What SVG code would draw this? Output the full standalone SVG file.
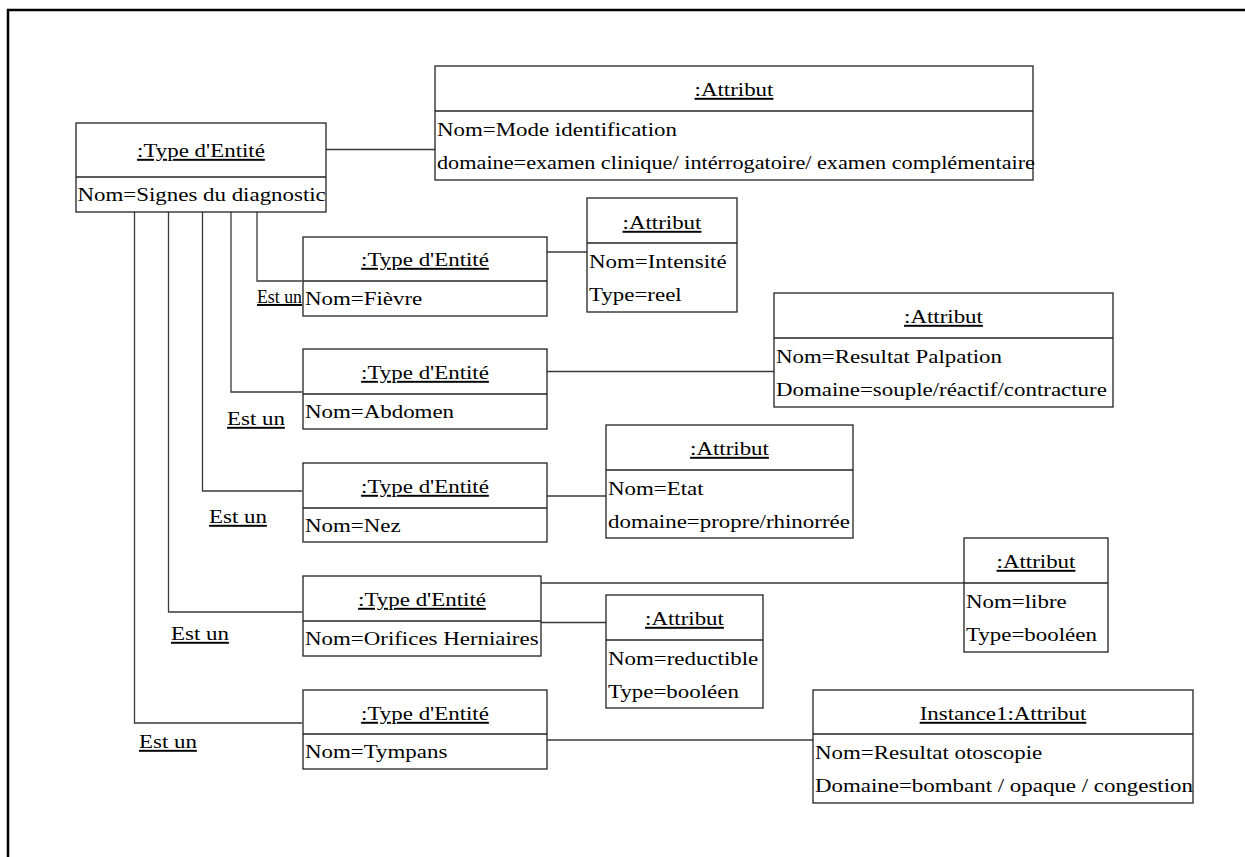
<svg xmlns="http://www.w3.org/2000/svg" width="1245" height="857" viewBox="0 0 1245 857">
  <style>
    text { font-family: "Liberation Serif", "Times New Roman", serif; font-size: 19.5px; fill: #000; }
    .h { text-anchor: middle; text-decoration: underline; transform-box: fill-box; transform-origin: 50% 50%; transform: scaleX(1.175); }
    .t { transform-box: fill-box; transform-origin: 0 50%; transform: scaleX(1.175); }
    .lbl { text-decoration: underline; transform-box: fill-box; transform-origin: 0 50%; transform: scaleX(1.175); }
    .box { fill: #fff; stroke: #222; stroke-width: 1.3; }
    .div { stroke: #222; stroke-width: 1.3; }
    .conn { fill: none; stroke: #3a3a3a; stroke-width: 1.3; }
    .frame { stroke: #000; stroke-width: 2.5; }
  </style>

  <rect width="1245" height="857" fill="#fff"/>

  <!-- page frame -->
  <g id="frame">
    <line class="frame" x1="7" y1="10" x2="1245" y2="10"/>
    <line class="frame" x1="8" y1="9" x2="8" y2="857"/>
  </g>

  <!-- connectors -->
  <g id="connectors">
    <line class="conn" x1="326" y1="149.5" x2="435" y2="149.5"/>
    <line class="conn" x1="547" y1="252" x2="587" y2="252"/>
    <line class="conn" x1="547" y1="371.5" x2="774" y2="371.5"/>
    <line class="conn" x1="547" y1="496" x2="606" y2="496"/>
    <line class="conn" x1="541" y1="583" x2="964" y2="583"/>
    <line class="conn" x1="541" y1="622.5" x2="606" y2="622.5"/>
    <line class="conn" x1="547" y1="740" x2="813" y2="740"/>

    <polyline class="conn" points="257,212 257,281 302,281"/>
    <polyline class="conn" points="231,212 231,392 302,392"/>
    <polyline class="conn" points="202.5,212 202.5,491 302,491"/>
    <polyline class="conn" points="168.5,212 168.5,612 302,612"/>
    <polyline class="conn" points="134.5,212 134.5,723 302,723"/>

    <text x="257" y="303" textLength="45" lengthAdjust="spacingAndGlyphs" text-decoration="underline">Est un</text>
    <text class="lbl" x="227" y="425">Est un</text>
    <text class="lbl" x="209" y="523">Est un</text>
    <text class="lbl" x="171" y="640">Est un</text>
    <text class="lbl" x="139" y="748">Est un</text>
  </g>

  <!-- root entity type -->
  <g id="entite-signes">
    <rect class="box" x="76" y="123" width="250" height="89"/>
    <line class="div" x1="76" y1="177" x2="326" y2="177"/>
    <text class="h" x="201" y="157">:Type d'Entité</text>
    <text class="t" x="77.5" y="201">Nom=Signes du diagnostic</text>
  </g>

  <g id="attribut-mode">
    <rect class="box" x="435" y="66" width="598" height="114"/>
    <line class="div" x1="435" y1="111" x2="1033" y2="111"/>
    <text class="h" x="734" y="96">:Attribut</text>
    <text class="t" x="437" y="136">Nom=Mode identification</text>
    <text x="437" y="169" textLength="598" lengthAdjust="spacingAndGlyphs">domaine=examen clinique/ intérrogatoire/ examen complémentaire</text>
  </g>

  <g id="entite-fievre">
    <rect class="box" x="303" y="237" width="244" height="79"/>
    <line class="div" x1="303" y1="281" x2="547" y2="281"/>
    <text class="h" x="425" y="266">:Type d'Entité</text>
    <text class="t" x="305" y="305">Nom=Fièvre</text>
  </g>

  <g id="attribut-intensite">
    <rect class="box" x="587" y="198" width="150" height="114"/>
    <line class="div" x1="587" y1="243" x2="737" y2="243"/>
    <text class="h" x="662" y="229">:Attribut</text>
    <text class="t" x="589" y="268">Nom=Intensité</text>
    <text class="t" x="589" y="301">Type=reel</text>
  </g>

  <g id="entite-abdomen">
    <rect class="box" x="303" y="349" width="244" height="80"/>
    <line class="div" x1="303" y1="394" x2="547" y2="394"/>
    <text class="h" x="425" y="379">:Type d'Entité</text>
    <text class="t" x="305" y="418">Nom=Abdomen</text>
  </g>

  <g id="attribut-palpation">
    <rect class="box" x="774" y="293" width="339" height="114"/>
    <line class="div" x1="774" y1="338" x2="1113" y2="338"/>
    <text class="h" x="943.5" y="323">:Attribut</text>
    <text class="t" x="776" y="363">Nom=Resultat Palpation</text>
    <text class="t" x="776" y="396">Domaine=souple/réactif/contracture</text>
  </g>

  <g id="entite-nez">
    <rect class="box" x="303" y="463" width="244" height="79"/>
    <line class="div" x1="303" y1="508" x2="547" y2="508"/>
    <text class="h" x="425" y="493">:Type d'Entité</text>
    <text class="t" x="305" y="532">Nom=Nez</text>
  </g>

  <g id="attribut-etat">
    <rect class="box" x="606" y="425" width="247" height="113"/>
    <line class="div" x1="606" y1="470" x2="853" y2="470"/>
    <text class="h" x="729.5" y="455">:Attribut</text>
    <text class="t" x="608" y="495">Nom=Etat</text>
    <text class="t" x="608" y="528">domaine=propre/rhinorrée</text>
  </g>

  <g id="entite-orifices">
    <rect class="box" x="303" y="576" width="238" height="80"/>
    <line class="div" x1="303" y1="621" x2="541" y2="621"/>
    <text class="h" x="422" y="606">:Type d'Entité</text>
    <text class="t" x="305" y="645">Nom=Orifices Herniaires</text>
  </g>

  <g id="attribut-libre">
    <rect class="box" x="964" y="538" width="144" height="114"/>
    <line class="div" x1="964" y1="583" x2="1108" y2="583"/>
    <text class="h" x="1036" y="568">:Attribut</text>
    <text class="t" x="966" y="608">Nom=libre</text>
    <text class="t" x="966" y="641">Type=booléen</text>
  </g>

  <g id="attribut-reductible">
    <rect class="box" x="606" y="595" width="157" height="113"/>
    <line class="div" x1="606" y1="640" x2="763" y2="640"/>
    <text class="h" x="684.5" y="625">:Attribut</text>
    <text class="t" x="608" y="665">Nom=reductible</text>
    <text class="t" x="608" y="698">Type=booléen</text>
  </g>

  <g id="entite-tympans">
    <rect class="box" x="303" y="690" width="244" height="79"/>
    <line class="div" x1="303" y1="734" x2="547" y2="734"/>
    <text class="h" x="425" y="720">:Type d'Entité</text>
    <text class="t" x="305" y="758">Nom=Tympans</text>
  </g>

  <g id="attribut-otoscopie">
    <rect class="box" x="813" y="690" width="380" height="113"/>
    <line class="div" x1="813" y1="734" x2="1193" y2="734"/>
    <text class="h" x="1003" y="720">Instance1:Attribut</text>
    <text class="t" x="815" y="759">Nom=Resultat otoscopie</text>
    <text class="t" x="815" y="792">Domaine=bombant / opaque / congestion</text>
  </g>
</svg>
